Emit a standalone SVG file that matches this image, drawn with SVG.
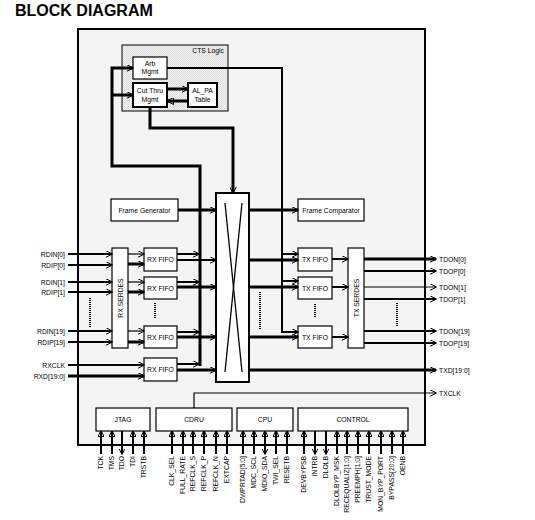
<svg xmlns="http://www.w3.org/2000/svg" width="535" height="520" viewBox="0 0 535 520">
<defs>
<marker id="a" markerUnits="userSpaceOnUse" markerWidth="7" markerHeight="7" viewBox="0 0 7 7" refX="6.5" refY="3.5" orient="auto"><path d="M0,0 L7,3.5 L0,7 z" fill="#000"/></marker>
<marker id="as" markerUnits="userSpaceOnUse" markerWidth="6" markerHeight="6" viewBox="0 0 6 6" refX="5.5" refY="3" orient="auto"><path d="M0,0 L6,3 L0,6 z" fill="#000"/></marker>
<marker id="ab" markerUnits="userSpaceOnUse" markerWidth="6" markerHeight="6" viewBox="0 0 6 6" refX="0.5" refY="3" orient="auto"><path d="M6,0 L0,3 L6,6 z" fill="#000"/></marker>
<pattern id="hatch" width="2" height="2" patternUnits="userSpaceOnUse"><rect width="2" height="2" fill="#f2f2f2"/><rect width="1" height="1" fill="#dcdcdc"/><rect x="1" y="1" width="1" height="1" fill="#dcdcdc"/></pattern>
</defs>
<style>
text{font-family:"Liberation Sans",Arial,sans-serif;font-size:6.8px;fill:#000}
.c{text-anchor:middle}
.r{text-anchor:end}
.box{fill:#fff;stroke:#000;stroke-width:1.2}
.bx2{fill:#fff;stroke:#000;stroke-width:2}
line,path{fill:none;stroke:#000}
.w1{stroke-width:1.2}
.w2{stroke-width:2}
.w3{stroke-width:3}
.ar{marker-end:url(#a)}
.dot{stroke-width:2;stroke-dasharray:1,1}
.pin{stroke-width:2}
</style>
<text x="15" y="15.5" style="font-size:16px;font-weight:bold">BLOCK DIAGRAM</text>
<rect id="chip" x="78" y="29" width="347" height="416" fill="#f4f4f4" stroke="#000" stroke-width="2"/>
<g id="cts"><rect x="122" y="45" width="106" height="66" fill="url(#hatch)" stroke="#000" stroke-width="1"/><text x="224" y="53" class="r">CTS Logic</text></g>
<g id="arb"><rect class="box" x="133" y="57" width="34" height="22"/><text x="150" y="66" class="c">Arb</text><text x="150" y="74" class="c">Mgmt</text></g>
<g id="cutthru"><rect class="bx2" x="133" y="83" width="34" height="24"/><text x="150" y="92.5" class="c">Cut Thru</text><text x="150" y="101.5" class="c">Mgmt</text></g>
<g id="alpa"><rect class="bx2" x="188" y="83" width="29" height="24"/><text x="202.5" y="92.5" class="c">AL_PA</text><text x="202.5" y="101.5" class="c">Table</text></g>
<g id="framegen"><rect class="box" x="111" y="199" width="67" height="22"/><text x="144.5" y="212.5" class="c">Frame Generator</text></g>
<g id="framecomp"><rect class="box" x="298" y="199" width="66" height="22"/><text x="331" y="212.5" class="c">Frame Comparator</text></g>
<g id="crossbar"><rect class="bx2" x="216" y="193" width="33" height="189"/><line x1="225" y1="203" x2="242" y2="372" stroke-width="1.3"/><line x1="242" y1="203" x2="225" y2="372" stroke-width="1.3"/></g>
<g id="rxserdes"><rect class="box" x="112" y="248" width="16" height="100"/><text transform="translate(122.5,298) rotate(-90)" class="c">RX SERDES</text></g>
<g id="rxfifo0"><rect class="box" x="144" y="248" width="33" height="23"/><text x="160.5" y="262" class="c">RX FIFO</text></g>
<g id="rxfifo1"><rect class="box" x="144" y="277" width="33" height="22"/><text x="160.5" y="290.5" class="c">RX FIFO</text></g>
<g id="rxfifo19"><rect class="box" x="144" y="326" width="33" height="22"/><text x="160.5" y="339.5" class="c">RX FIFO</text></g>
<g id="rxfifod"><rect class="box" x="144" y="358" width="33" height="23"/><text x="160.5" y="372" class="c">RX FIFO</text></g>
<g id="txfifo0"><rect class="box" x="298" y="248" width="34" height="23"/><text x="315" y="262" class="c">TX FIFO</text></g>
<g id="txfifo1"><rect class="box" x="298" y="277" width="34" height="22"/><text x="315" y="290.5" class="c">TX FIFO</text></g>
<g id="txfifo19"><rect class="box" x="298" y="326" width="34" height="22"/><text x="315" y="339.5" class="c">TX FIFO</text></g>
<g id="txserdes"><rect class="box" x="348" y="248" width="16" height="100"/><text transform="translate(358.5,298) rotate(-90)" class="c">TX SERDES</text></g>
<g id="jtag"><rect class="box" x="96" y="408" width="54" height="23"/><text x="123" y="422" class="c">JTAG</text></g>
<g id="cdru"><rect class="box" x="156" y="408" width="76" height="23"/><text x="194" y="422" class="c">CDRU</text></g>
<g id="cpu"><rect class="box" x="237" y="408" width="56" height="23"/><text x="265" y="422" class="c">CPU</text></g>
<g id="control"><rect class="box" x="298" y="408" width="110" height="23"/><text x="353" y="422" class="c">CONTROL</text></g>
<g id="connectors">
<path class="w3" d="M200,366 V166 H112 V68 H133" marker-end="url(#a)"/>
<path class="w3 ar" d="M112,95 H133"/>
<path class="w3 ar" d="M150,107 V128 H233 V193"/>
<path class="w3 ar" d="M167,89 H188"/>
<path class="w3 ar" d="M188,101 H167"/>
<path class="w2 ar" d="M167,68 H282 V332 H298"/>
<path class="w2 ar" d="M282,254 H298"/>
<path class="w2 ar" d="M282,281 H298"/>
<path class="w3 ar" d="M178,210 H216"/>
<path class="w3 ar" d="M249,210 H298"/>
<path class="w2 ar" d="M68,254 H112"/>
<path class="w2 ar" d="M68,265 H112"/>
<path class="w2 ar" d="M68,282 H112"/>
<path class="w2 ar" d="M68,292 H112"/>
<path class="w2 ar" d="M68,331 H112"/>
<path class="w2 ar" d="M68,342 H112"/>
<path class="w2 ar" d="M68,365 H144"/>
<path class="w3 ar" d="M68,376 H144"/>
<path class="w1 ar" d="M128,254 H144"/>
<path class="w3 ar" d="M128,264 H144"/>
<path class="w1 ar" d="M128,282 H144"/>
<path class="w3 ar" d="M128,292 H144"/>
<path class="w1 ar" d="M128,331 H144"/>
<path class="w3 ar" d="M128,342 H144"/>
<path class="w2 ar" d="M177,254 H199"/>
<path class="w2 ar" d="M177,282 H199"/>
<path class="w2 ar" d="M177,332 H199"/>
<path class="w2 ar" d="M177,364 H199"/>
<path class="w2 ar" d="M177,260 H216"/>
<path class="w3 ar" d="M177,287 H216"/>
<path class="w3 ar" d="M177,337 H216"/>
<path class="w3 ar" d="M177,370 H216"/>
<path class="w3 ar" d="M249,260 H298"/>
<path class="w3 ar" d="M249,287 H298"/>
<path class="w3 ar" d="M249,337 H298"/>
<path class="w3 ar" d="M249,370 H436"/>
<path class="w2 ar" d="M332,259 H348"/>
<path class="w2 ar" d="M332,287 H348"/>
<path class="w2 ar" d="M332,337 H348"/>
<path class="w3 ar" d="M364,259 H436"/>
<path class="w2 ar" d="M364,271 H436"/>
<path class="w1 ar" d="M364,287 H436"/>
<path class="w2 ar" d="M364,299 H436"/>
<path class="w2 ar" d="M364,331 H436"/>
<path class="w2 ar" d="M364,343 H436"/>
<path class="w1 ar" d="M194,408 V393 H436"/>
<line class="dot" x1="90" y1="298" x2="90" y2="327"/>
<line class="dot" x1="155" y1="303" x2="155" y2="318"/>
<line class="dot" x1="260" y1="292" x2="260" y2="330"/>
<line class="dot" x1="315" y1="304" x2="315" y2="318"/>
<line class="dot" x1="397" y1="303" x2="397" y2="326"/>
<g class="pin" marker-end="url(#as)">
<line x1="101" y1="454" x2="101" y2="431"/>
<line x1="112" y1="454" x2="112" y2="431"/>
<line x1="133" y1="454" x2="133" y2="431"/>
<line x1="144" y1="454" x2="144" y2="431"/>
<line x1="172" y1="454" x2="172" y2="431"/>
<line x1="183" y1="454" x2="183" y2="431"/>
<line x1="193" y1="454" x2="193" y2="431"/>
<line x1="204" y1="454" x2="204" y2="431"/>
<line x1="216" y1="454" x2="216" y2="431"/>
<line x1="227" y1="454" x2="227" y2="431"/>
<line x1="243" y1="454" x2="243" y2="431"/>
<line x1="254" y1="454" x2="254" y2="431"/>
<line x1="265" y1="454" x2="265" y2="431" marker-start="url(#ab)"/>
<line x1="276" y1="454" x2="276" y2="431"/>
<line x1="287" y1="454" x2="287" y2="431"/>
<line x1="304" y1="454" x2="304" y2="431"/>
<line x1="337" y1="454" x2="337" y2="431"/>
<line x1="347" y1="454" x2="347" y2="431"/>
<line x1="358" y1="454" x2="358" y2="431"/>
<line x1="369" y1="454" x2="369" y2="431"/>
<line x1="381" y1="454" x2="381" y2="431"/>
<line x1="392" y1="454" x2="392" y2="431"/>
<line x1="403" y1="454" x2="403" y2="431"/>
<line x1="122" y1="431" x2="122" y2="454"/>
<line x1="315" y1="431" x2="315" y2="454"/>
<line x1="326" y1="431" x2="326" y2="454"/>
</g>
</g>
<g id="labels-left">
<text x="65" y="256.5" class="r">RDIN[0]</text>
<text x="65" y="267.5" class="r">RDIP[0]</text>
<text x="65" y="284.5" class="r">RDIN[1]</text>
<text x="65" y="294.5" class="r">RDIP[1]</text>
<text x="65" y="333.5" class="r">RDIN[19]</text>
<text x="65" y="344.5" class="r">RDIP[19]</text>
<text x="65" y="367.5" class="r">RXCLK</text>
<text x="65" y="378.5" class="r">RXD[19:0]</text>
</g>
<g id="labels-right">
<text x="439" y="261.5">TDON[0]</text>
<text x="439" y="273.5">TDOP[0]</text>
<text x="439" y="289.5">TDON[1]</text>
<text x="439" y="301.5">TDOP[1]</text>
<text x="439" y="333.5">TDON[19]</text>
<text x="439" y="345.5">TDOP[19]</text>
<text x="439" y="372.5">TXD[19:0]</text>
<text x="439" y="395.5">TXCLK</text>
</g>
<g id="labels-bottom" class="r">
<text transform="translate(103.3,456) rotate(-90)">TCK</text>
<text transform="translate(114.3,456) rotate(-90)">TMS</text>
<text transform="translate(124.3,456) rotate(-90)">TDO</text>
<text transform="translate(135.3,456) rotate(-90)">TDI</text>
<text transform="translate(146.3,456) rotate(-90)">TRSTB</text>
<text transform="translate(174.3,456) rotate(-90)">CLK_SEL</text>
<text transform="translate(185.3,456) rotate(-90)">FULL_RATE</text>
<text transform="translate(195.3,456) rotate(-90)">REFCLK_S</text>
<text transform="translate(206.3,456) rotate(-90)">REFCLK_P</text>
<text transform="translate(218.3,456) rotate(-90)">REFCLK_N</text>
<text transform="translate(229.3,456) rotate(-90)">EXTCAP</text>
<text transform="translate(245.3,456) rotate(-90)">DWPRTAD[5:0]</text>
<text transform="translate(256.3,456) rotate(-90)">MDC_SCL</text>
<text transform="translate(267.3,456) rotate(-90)">MDIO_SDA</text>
<text transform="translate(278.3,456) rotate(-90)">TWI_SEL</text>
<text transform="translate(289.3,456) rotate(-90)">RESETB</text>
<text transform="translate(306.3,456) rotate(-90)">DEVBYPSB</text>
<text transform="translate(317.3,456) rotate(-90)">INTRB</text>
<text transform="translate(328.3,456) rotate(-90)">DLOLB</text>
<text transform="translate(339.3,456) rotate(-90)">DLOLBYP_MSK</text>
<text transform="translate(349.3,456) rotate(-90)">RECEQUALIZ[1:0]</text>
<text transform="translate(360.3,456) rotate(-90)">PREEMPH[1:0]</text>
<text transform="translate(371.3,456) rotate(-90)">TRUST_MODE</text>
<text transform="translate(383.3,456) rotate(-90)">MON_BYP_PORT</text>
<text transform="translate(394.3,456) rotate(-90)">BYPASS[20:0]</text>
<text transform="translate(405.3,456) rotate(-90)">OENB</text>
</g>
</svg>
